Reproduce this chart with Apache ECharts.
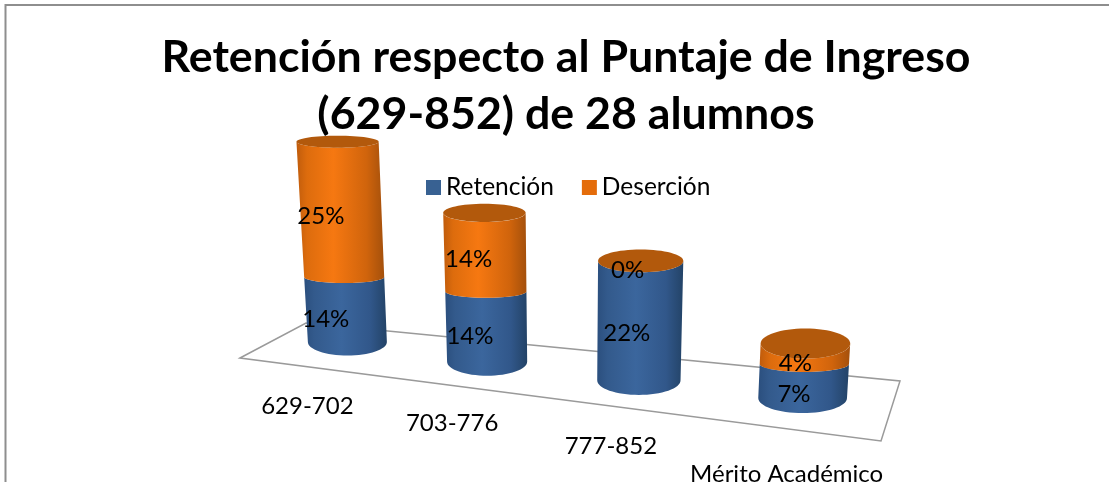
<!DOCTYPE html>
<html><head><meta charset="utf-8">
<style>html,body{margin:0;padding:0;background:#fff}#c{width:1109px;height:482px}</style>
<script src="https://cdn.jsdelivr.net/npm/echarts@6/dist/echarts.min.js"></script>
</head><body><div id="c"></div>
<script>
const categories = ['629-702','703-776','777-852','Mérito Académico'];
const retencion = [14,14,22,7];
const desercion = [25,14,0,4];
const titleText = 'Retención respecto al Puntaje de Ingreso\n(629-852) de 28 alumnos';
const FONT = 'Lato, Carlito, Calibri, sans-serif';

const chart = echarts.init(document.getElementById('c'), null, {renderer:'canvas'});
const depthScale = [1,1.08,1.13,1.08];

function project(api, i, v){
  const p0 = api.coord([i,0]);
  const pv = api.coord([i,v]);
  const bx = p0[0] + 6*i*i;
  const by = p0[1] + 18.67*i + 1*i*(3-i)/2;
  const h = (p0[1]-pv[1])*(1+0.0045*v)*depthScale[i];
  const x = bx + (bx-570)*0.00022*h;
  const y = by - h;
  const rx = 39.5 + 0.6*i*i*0.9 + 0.008*h;
  return {x,y,rx,bx,by,h};
}
const topRy = y => 6 + 0.045*(y-142);
const lowerArc = (c,ry,rev) => {
  const pts=[];
  for(let k=0;k<=32;k++){
    const t=Math.PI*k/32;
    pts.push([c.x - c.rx*Math.cos(t), c.y + ry*Math.sin(t)]);
  }
  return rev?pts.reverse():pts;
};
const grad = stops => new echarts.graphic.LinearGradient(0,0,1,0,stops.map(s=>({offset:s[0],color:s[1]})));
const blueFill = () => grad([[0,'#2b4f7e'],[0.12,'#335a8c'],[0.45,'#3b669d'],[0.8,'#31578a'],[1,'#234367']]);
const orangeFill = () => grad([[0,'#c05c0c'],[0.12,'#dd6c0d'],[0.42,'#f67811'],[0.8,'#d0640c'],[1,'#a4500c']]);

function segment(api, i, from, to, isTop, fill){
  const a = project(api,i,from), b = project(api,i,to);
  const children=[];
  const ryA = from===0 ? 13.5+0.028*(a.y-342) : 0.5*topRy(a.y);
  const ryB = isTop ? topRy(b.y) : 0.5*topRy(b.y);
  if(to>from){
    const pts = lowerArc(a,ryA).concat(lowerArc(b,ryB,true));
    children.push({type:'polygon',shape:{points:pts},style:{fill:fill()}});
  }
  return {children,a,b,ryB,mid:{x:(a.x+b.x)/2,y:(a.y+b.y)/2}};
}
function labelEl(text,x,y){
  return {type:'text',x,y,z2:50,style:{text,fill:'#000',font:'24px '+FONT,align:'center',verticalAlign:'middle'}};
}
function renderRet(params,api){
  const i=api.value(0), v=api.value(1), d=desercion[i];
  const s=segment(api,i,0,v,d===0,blueFill);
  const base=project(api,i,0);
  const dx=-20+3.5*i, dy=i<2?9.5:13;
  s.children.push(labelEl(v+'%',s.mid.x+dx,s.mid.y+dy));
  s.children.push({type:'text',x:base.bx-[40,35,28,16][i],y:base.by+[64,62,66,76][i],
    style:{text:categories[i],fill:'#000',font:'24px '+FONT,align:'center',verticalAlign:'middle'}});
  return {type:'group',children:s.children};
}
function renderDes(params,api){
  const i=api.value(0), v=api.value(1), r=retencion[i];
  const s=segment(api,i,r,r+v,true,orangeFill);
  s.children.push({type:'ellipse',shape:{cx:s.b.x,cy:s.b.y,rx:s.b.rx,ry:s.ryB},style:{fill:'#b2590c'}});
  const dx=-20+3.5*i, dy=i<2?7:9.5;
  s.children.push(labelEl(v+'%',s.mid.x+dx,s.mid.y+dy));
  return {type:'group',children:s.children};
}
chart.setOption({
  animation:false,
  backgroundColor:'#fff',
  title:{text:titleText,left:561,top:24,textAlign:'center',z:1,
    textStyle:{fontFamily:FONT,fontSize:44.7,fontWeight:'bold',lineHeight:57,color:'#000'}},
  legend:{left:421,top:170,icon:'rect',itemWidth:15,itemHeight:15,itemGap:28,z:3,
    selectedMode:false,data:['Retención','Deserción'],
    textStyle:{fontFamily:FONT,fontSize:24.5,color:'#000'}},
  grid:{left:280.5,width:535,top:167.2,height:174.8},
  xAxis:{type:'category',data:categories,show:false},
  yAxis:{type:'value',min:0,max:40,show:false},
  graphic:{elements:[
    {type:'rect',z:0,shape:{x:5.5,y:5,width:1200,height:600},style:{fill:'none',stroke:'#8e8e8e',lineWidth:2}},
    {type:'polygon',z:1,shape:{points:[[240,358],[306,323],[900,381],[881,441]]},style:{fill:'none',stroke:'#9a9a9a',lineWidth:1.5}}
  ]},
  series:[
    {type:'custom',name:'Retención',z:5,itemStyle:{color:'#386192'},renderItem:renderRet,clip:false,
      encode:{x:0,y:1},data:retencion.map((v,i)=>[i,v])},
    {type:'custom',name:'Deserción',z:6,itemStyle:{color:'#e46c0a'},renderItem:renderDes,clip:false,
      encode:{x:0,y:1},data:desercion.map((v,i)=>[i,v])}
  ]
});
</script></body></html>
